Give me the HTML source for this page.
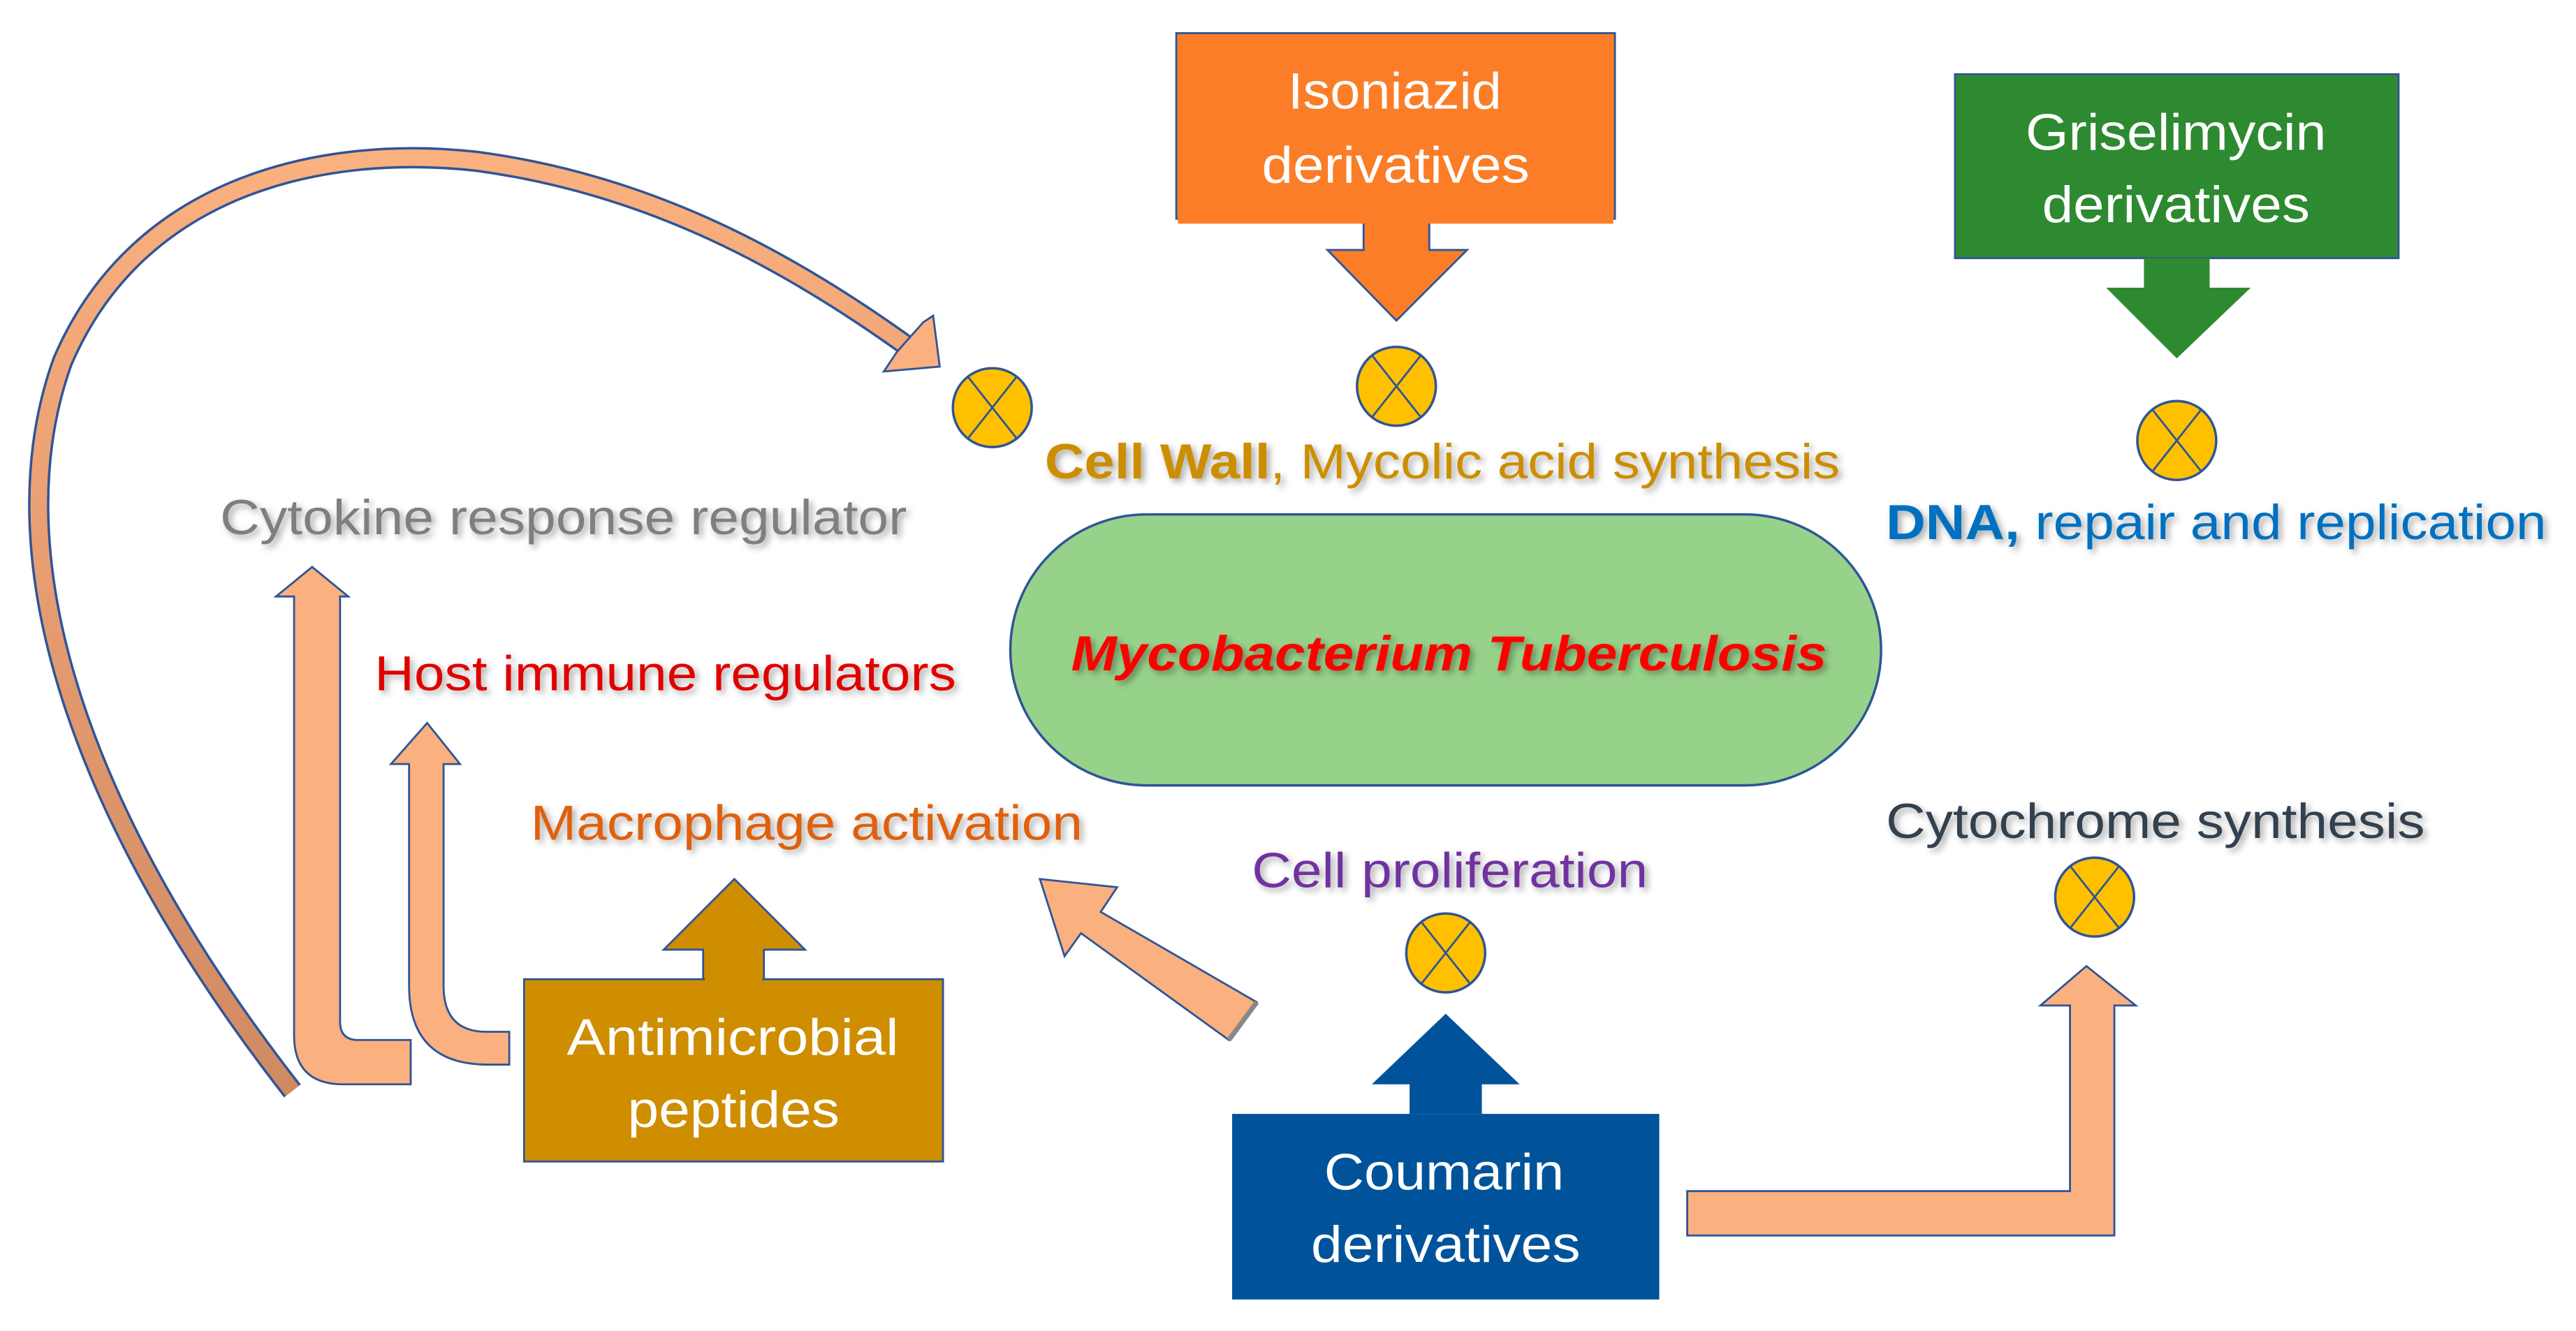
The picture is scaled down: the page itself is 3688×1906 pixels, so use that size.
<!DOCTYPE html>
<html><head><meta charset="utf-8"><style>
html,body{margin:0;padding:0;background:#fff;}
svg{display:block;}
text{font-family:"Liberation Sans",sans-serif;}
.sh{filter:url(#ts);}
</style></head><body>
<svg width="3688" height="1906" viewBox="0 0 1568 810" xmlns="http://www.w3.org/2000/svg">
<defs>
<filter id="ts" x="-5%" y="-30%" width="110%" height="160%"><feDropShadow dx="2" dy="2" stdDeviation="2" flood-color="#000" flood-opacity="0.35"/></filter>
<linearGradient id="arcg" x1="0" y1="0" x2="0" y2="1"><stop offset="0" stop-color="#FBB07F"/><stop offset="0.5" stop-color="#E59B70"/><stop offset="1" stop-color="#D08A62"/></linearGradient>
<g id="cx"><ellipse cx="0" cy="0" rx="24" ry="24" fill="#FFC000" stroke="#2F5597" stroke-width="1.5"/><path d="M-15,-19 L15,19 M15,-19 L-15,19" stroke="#2F5597" stroke-width="1.2"/></g>
</defs>

<!-- big arc -->
<path d="M178,664 C 50,500 -5,340 38,220 C 85,110 200,88 290,98 C 395,112 480,158 557,214" fill="none" stroke="#2F5597" stroke-width="13"/>
<path d="M178,664 C 50,500 -5,340 38,220 C 85,110 200,88 290,98 C 395,112 480,158 557,214" fill="none" stroke="url(#arcg)" stroke-width="10"/>
<polygon points="572,223 538,226 546,214 562,196 568,192" fill="#FBB07F" stroke="#2F5597" stroke-width="1.2"/>

<!-- circles -->
<use href="#cx" x="604" y="248"/>
<use href="#cx" x="850" y="235"/>
<use href="#cx" x="1325" y="268"/>
<use href="#cx" x="880" y="580"/>
<use href="#cx" x="1275" y="546"/>

<!-- Isoniazid -->
<rect x="716" y="20" width="267" height="113" fill="#FB7D27" stroke="#2F5597" stroke-width="1.2"/>
<polygon points="830,133 870,133 870,152 893,152 850,195 808,152 830,152" fill="#FB7D27" stroke="#2F5597" stroke-width="1.2"/>
<rect x="717" y="130" width="265" height="6" fill="#FB7D27"/>
<text x="784" y="66" font-size="31" fill="#fff" textLength="130" lengthAdjust="spacingAndGlyphs">Isoniazid</text>
<text x="768" y="111" font-size="31" fill="#fff" textLength="163" lengthAdjust="spacingAndGlyphs">derivatives</text>

<!-- Griselimycin -->
<rect x="1190" y="45" width="270" height="112" fill="#2E8A30" stroke="#2F5597" stroke-width="1.2"/>
<polygon points="1305,157 1345,157 1345,175 1370,175 1325,218 1282,175 1305,175" fill="#2E8A30"/>
<text x="1233" y="91" font-size="31" fill="#fff" textLength="183" lengthAdjust="spacingAndGlyphs">Griselimycin</text>
<text x="1243" y="135" font-size="31" fill="#fff" textLength="163" lengthAdjust="spacingAndGlyphs">derivatives</text>

<!-- central -->
<rect x="615" y="313" width="530" height="165" rx="83" ry="83" fill="#97D28A" stroke="#2F5597" stroke-width="1.5"/>
<text class="sh" x="652" y="408" font-size="30" font-weight="bold" font-style="italic" fill="#FF0000" textLength="460" lengthAdjust="spacingAndGlyphs">Mycobacterium Tuberculosis</text>

<!-- labels -->
<text class="sh" x="636" y="291" font-size="30" fill="#CC8E00" textLength="484" lengthAdjust="spacingAndGlyphs"><tspan font-weight="bold">Cell Wall</tspan>, Mycolic acid synthesis</text>
<text class="sh" x="1148" y="328" font-size="30" fill="#0070C0" textLength="402" lengthAdjust="spacingAndGlyphs"><tspan font-weight="bold">DNA,</tspan> repair and replication</text>
<text class="sh" x="134" y="325" font-size="30" fill="#7F7F7F" textLength="418" lengthAdjust="spacingAndGlyphs">Cytokine response regulator</text>
<text class="sh" x="228" y="420" font-size="30" fill="#E00000" textLength="354" lengthAdjust="spacingAndGlyphs">Host immune regulators</text>
<text class="sh" x="323" y="511" font-size="30" fill="#E0600F" textLength="336" lengthAdjust="spacingAndGlyphs">Macrophage activation</text>
<text class="sh" x="762" y="540" font-size="30" fill="#7030A0" textLength="241" lengthAdjust="spacingAndGlyphs">Cell proliferation</text>
<text class="sh" x="1148" y="510" font-size="30" fill="#333F50" textLength="328" lengthAdjust="spacingAndGlyphs">Cytochrome synthesis</text>

<!-- left L arrows -->
<path d="M179,363 L179,630 Q179,660 209,660 L250,660 L250,633 L218,633 Q207,633 207,622 L207,363 L212,363 L190,345 L168,363 Z" fill="#FBB07F" stroke="#2F5597" stroke-width="1.2"/>
<path d="M249,465 L249,600 Q249,648 297,648 L310,648 L310,628 L296,628 Q270,628 270,600 L270,465 L280,465 L260,440 L238,465 Z" fill="#FBB07F" stroke="#2F5597" stroke-width="1.2"/>

<!-- Antimicrobial -->
<rect x="319" y="596" width="255" height="111" fill="#CE8E00" stroke="#2F5597" stroke-width="1.2"/>
<polygon points="428,596 428,578 404,578 447,535 490,578 465,578 465,596" fill="#CE8E00" stroke="#2F5597" stroke-width="1.2"/>
<rect x="429" y="592" width="35" height="8" fill="#CE8E00"/>
<text x="345" y="642" font-size="31" fill="#fff" textLength="202" lengthAdjust="spacingAndGlyphs">Antimicrobial</text>
<text x="382" y="686" font-size="31" fill="#fff" textLength="129" lengthAdjust="spacingAndGlyphs">peptides</text>

<!-- diagonal arrow -->
<polygon points="765,610 748,633 658,568 648,582 633,535 680,540 670,555" fill="#FBB07F" stroke="#2F5597" stroke-width="1.2"/>
<path d="M765,610 L748,633" stroke="#888" stroke-width="3"/>

<!-- Coumarin -->
<rect x="750" y="678" width="260" height="113" fill="#00539B"/>
<polygon points="858,678 858,660 835,660 880,617 925,660 902,660 902,678" fill="#00539B"/>
<text x="806" y="724" font-size="31" fill="#fff" textLength="146" lengthAdjust="spacingAndGlyphs">Coumarin</text>
<text x="798" y="768" font-size="31" fill="#fff" textLength="164" lengthAdjust="spacingAndGlyphs">derivatives</text>

<!-- L arrow to cytochrome -->
<polygon points="1027,725 1260,725 1260,612 1242,612 1270,588 1300,612 1287,612 1287,752 1027,752" fill="#FBB07F" stroke="#2F5597" stroke-width="1.2"/>
</svg>
</body></html>
